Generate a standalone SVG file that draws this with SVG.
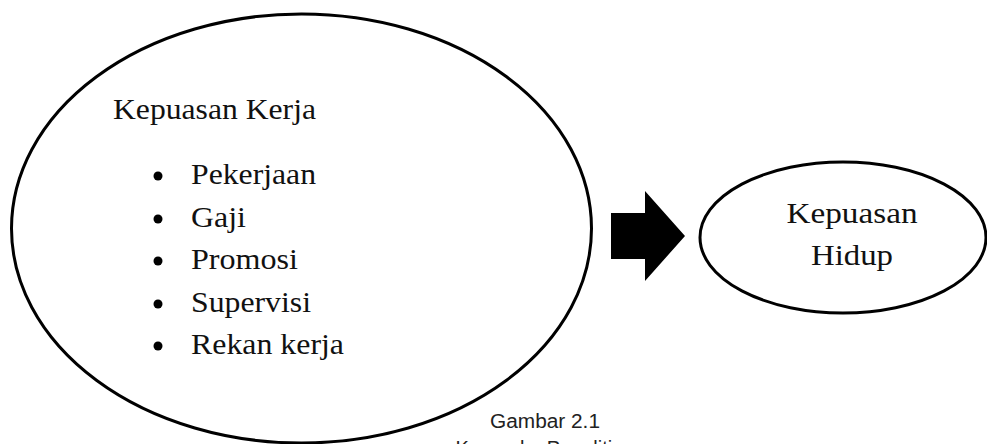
<svg xmlns="http://www.w3.org/2000/svg" width="987" height="444" viewBox="0 0 987 444">
<style>
.shape{fill:#fff;stroke:#000;stroke-width:3}
.t{font-family:"Liberation Serif","Times New Roman",serif;fill:#111;font-size:30px}
.cap{font-family:"Liberation Sans",Arial,sans-serif;fill:#222;font-size:20px}
</style>
<rect width="987" height="444" fill="#fff"/>
<g id="node-kepuasan-kerja">
<ellipse class="shape" cx="301.5" cy="228.5" rx="290" ry="214.5"/>
<text class="t" x="113" y="119" textLength="203" lengthAdjust="spacingAndGlyphs">Kepuasan Kerja</text>
<circle cx="158" cy="176" r="4.5"/>
<circle cx="158" cy="219" r="4.5"/>
<circle cx="158" cy="261" r="4.5"/>
<circle cx="158" cy="304" r="4.5"/>
<circle cx="158" cy="346" r="4.5"/>
<text class="t" x="191" y="184" textLength="125" lengthAdjust="spacingAndGlyphs">Pekerjaan</text>
<text class="t" x="191" y="227" textLength="55" lengthAdjust="spacingAndGlyphs">Gaji</text>
<text class="t" x="191" y="269" textLength="107" lengthAdjust="spacingAndGlyphs">Promosi</text>
<text class="t" x="191" y="312" textLength="120" lengthAdjust="spacingAndGlyphs">Supervisi</text>
<text class="t" x="191" y="354" textLength="153" lengthAdjust="spacingAndGlyphs">Rekan kerja</text>
</g>
<g id="connectors">
<polygon points="611,213 645,213 645,191 685,236 645,281 645,259 611,259" fill="#000"/>
</g>
<g id="node-kepuasan-hidup">
<ellipse class="shape" cx="843" cy="237.5" rx="143" ry="75.5" stroke-width="2.5"/>
<text class="t" x="852" y="223" text-anchor="middle" textLength="131" lengthAdjust="spacingAndGlyphs">Kepuasan</text>
<text class="t" x="852" y="265" text-anchor="middle" textLength="82" lengthAdjust="spacingAndGlyphs">Hidup</text>
</g>
<g id="caption">
<text class="cap" x="545" y="428" text-anchor="middle" textLength="110" lengthAdjust="spacingAndGlyphs">Gambar 2.1</text>
<text class="cap" x="545" y="455" text-anchor="middle">Kerangka Penelitian</text>
</g>
</svg>
